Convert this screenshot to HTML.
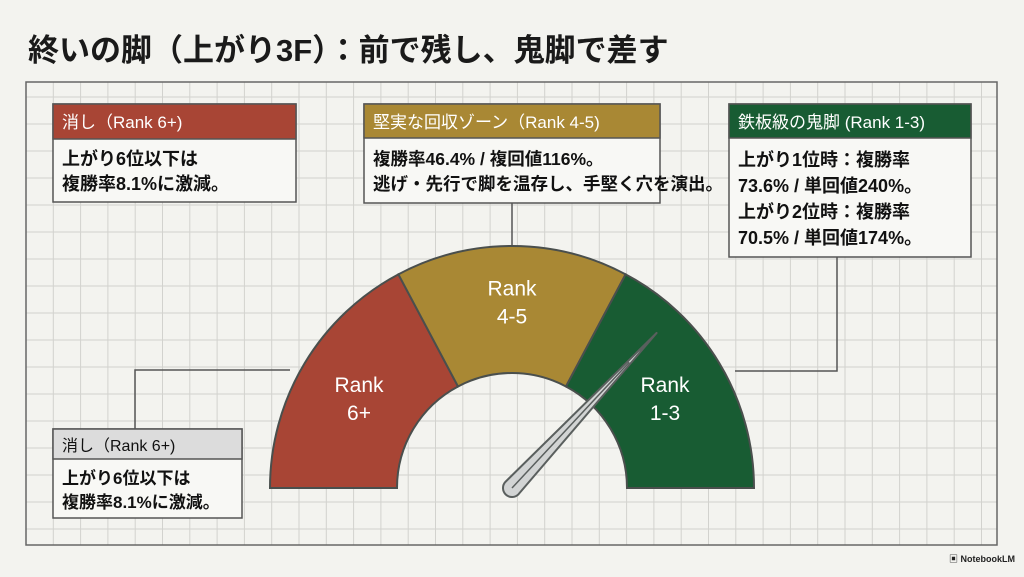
<!DOCTYPE html>
<html><head><meta charset="utf-8"><style>
body{margin:0;background:#f3f3ef;}
svg text{font-family:"Liberation Sans","Noto Sans CJK JP",sans-serif;}
</style></head><body>
<svg width="1024" height="572" viewBox="0 0 1024 572" xmlns="http://www.w3.org/2000/svg">
<rect x="0" y="0" width="1024" height="572" fill="#f3f3ef"/>
<text x="28" y="61" font-size="31" font-weight="bold" fill="#1a1a1a">終いの脚（上がり3F）：前で残し、鬼脚で差す</text>
<g id="grid"></g>
<rect x="26" y="82" width="971" height="463" fill="none" stroke="#666" stroke-width="1.5"/>
<polyline points="512,203 512,246" fill="none" stroke="#555" stroke-width="1.5"/>
<polyline points="837,257 837,371 735,371" fill="none" stroke="#555" stroke-width="1.5"/>
<polyline points="135,429 135,370 290,370" fill="none" stroke="#555" stroke-width="1.5"/>
<g id="gauge"></g>

<g>
<rect x="53" y="104" width="243" height="98" fill="#f8f8f5" stroke="#555" stroke-width="1.5"/>
<rect x="53" y="104" width="243" height="35" fill="#a84535" stroke="#555" stroke-width="1.5"/>
<text x="62" y="128" font-size="17" fill="#fff">消し（Rank 6+)</text>
<text x="62" y="165" font-size="18" font-weight="bold" fill="#111">上がり6位以下は</text>
<text x="62" y="190" font-size="18" font-weight="bold" fill="#111">複勝率8.1%に激減。</text>
</g>
<g>
<rect x="364" y="104" width="296" height="99" fill="#f8f8f5" stroke="#555" stroke-width="1.5"/>
<rect x="364" y="104" width="296" height="34" fill="#a98834" stroke="#555" stroke-width="1.5"/>
<text x="373" y="128" font-size="17" fill="#fff">堅実な回収ゾーン（Rank 4-5)</text>
<text x="373" y="165" font-size="17.5" font-weight="bold" fill="#111">複勝率46.4% / 複回値116%。</text>
<text x="373" y="190" font-size="17.5" font-weight="bold" fill="#111">逃げ・先行で脚を温存し、手堅く穴を演出。</text>
</g>
<g>
<rect x="729" y="104" width="242" height="153" fill="#f8f8f5" stroke="#555" stroke-width="1.5"/>
<rect x="729" y="104" width="242" height="34" fill="#185c33" stroke="#555" stroke-width="1.5"/>
<text x="738" y="128" font-size="17" fill="#fff">鉄板級の鬼脚 (Rank 1-3)</text>
<text x="738" y="166" font-size="18" font-weight="bold" fill="#111">上がり1位時：複勝率</text>
<text x="738" y="192" font-size="18" font-weight="bold" fill="#111">73.6% / 単回値240%。</text>
<text x="738" y="218" font-size="18" font-weight="bold" fill="#111">上がり2位時：複勝率</text>
<text x="738" y="244" font-size="18" font-weight="bold" fill="#111">70.5% / 単回値174%。</text>
</g>
<g>
<rect x="53" y="429" width="189" height="89" fill="#f8f8f5" stroke="#555" stroke-width="1.5"/>
<rect x="53" y="429" width="189" height="30" fill="#dcdcdc" stroke="#555" stroke-width="1.5"/>
<text x="62" y="451" font-size="16" fill="#111">消し（Rank 6+)</text>
<text x="62" y="484" font-size="17" font-weight="bold" fill="#111">上がり6位以下は</text>
<text x="62" y="508" font-size="17" font-weight="bold" fill="#111">複勝率8.1%に激減。</text>
</g>
<text x="1015" y="562" font-size="9" font-weight="bold" fill="#222" text-anchor="end">▣ NotebookLM</text>
</svg>
<script>
const segmentLabels = [["Rank","6+"],["Rank","4-5"],["Rank","1-3"]];
const segmentStart = [180, 118, 62];
const segmentEnd = [118, 62, 0];
const segmentColors = ["#a84535","#a98834","#185c33"];
const needleValue = 47;

const NS="http://www.w3.org/2000/svg";
const cx=512, cy=488, R=242, r=115;
function pt(a,rad){const t=a*Math.PI/180;return [cx+rad*Math.cos(t), cy-rad*Math.sin(t)];}
const grid=document.getElementById('grid');
let gd="";
for(let x=26;x<=997;x+=27.3) gd+=`M${x.toFixed(1)} 82V545`;
for(let y=97;y<=545;y+=27) gd+=`M26 ${y}H997`;
const gp=document.createElementNS(NS,'path');
gp.setAttribute('d',gd);gp.setAttribute('stroke','#d2d2ce');gp.setAttribute('stroke-width','1');gp.setAttribute('fill','none');


grid.appendChild(gp);

const g=document.getElementById('gauge');
segmentStart.forEach((s,i)=>{
  const e=segmentEnd[i];
  const [x1,y1]=pt(s,R),[x2,y2]=pt(e,R),[x3,y3]=pt(e,r),[x4,y4]=pt(s,r);
  const p=document.createElementNS(NS,'path');
  p.setAttribute('d',`M${x1} ${y1}A${R} ${R} 0 0 1 ${x2} ${y2}L${x3} ${y3}A${r} ${r} 0 0 0 ${x4} ${y4}Z`);
  p.setAttribute('fill',segmentColors[i]);p.setAttribute('stroke','#4a4f4d');p.setAttribute('stroke-width','2');
  
  
  g.appendChild(p);
  const mid=(s+e)/2;const [tx,ty]=pt(mid,(R+r)/2+ (i==1?10:0));
  segmentLabels[i].forEach((l,j)=>{
    const t=document.createElementNS(NS,'text');
    t.setAttribute('x',tx);t.setAttribute('y',ty-4+j*28);t.setAttribute('text-anchor','middle');
    t.setAttribute('font-size','21');t.setAttribute('fill','#fff');t.textContent=l;
    
    
    g.appendChild(t);
  });
});
const a=needleValue*Math.PI/180, L=212, w=9;
const tip=[cx+L*Math.cos(a), cy-L*Math.sin(a)];
const px=Math.sin(a), py=Math.cos(a);
const b1=[cx+w*px, cy+w*py], b2=[cx-w*px, cy-w*py];
const nd=document.createElementNS(NS,'path');
nd.setAttribute('d',`M${b1} L${tip} L${b2} A${w} ${w} 0 0 0 ${b1}Z`);
nd.setAttribute('fill','#d2d4d4');nd.setAttribute('stroke','#5a5f5e');nd.setAttribute('stroke-width','2');nd.setAttribute('stroke-linejoin','round');


g.appendChild(nd);
const nl=document.createElementNS(NS,'line');
nl.setAttribute('x1',cx);nl.setAttribute('y1',cy);nl.setAttribute('x2',cx+(L-40)*Math.cos(a));nl.setAttribute('y2',cy-(L-40)*Math.sin(a));
nl.setAttribute('stroke','#5a5f5e');nl.setAttribute('stroke-width','1.5');


g.appendChild(nl);
</script>
</body></html>
